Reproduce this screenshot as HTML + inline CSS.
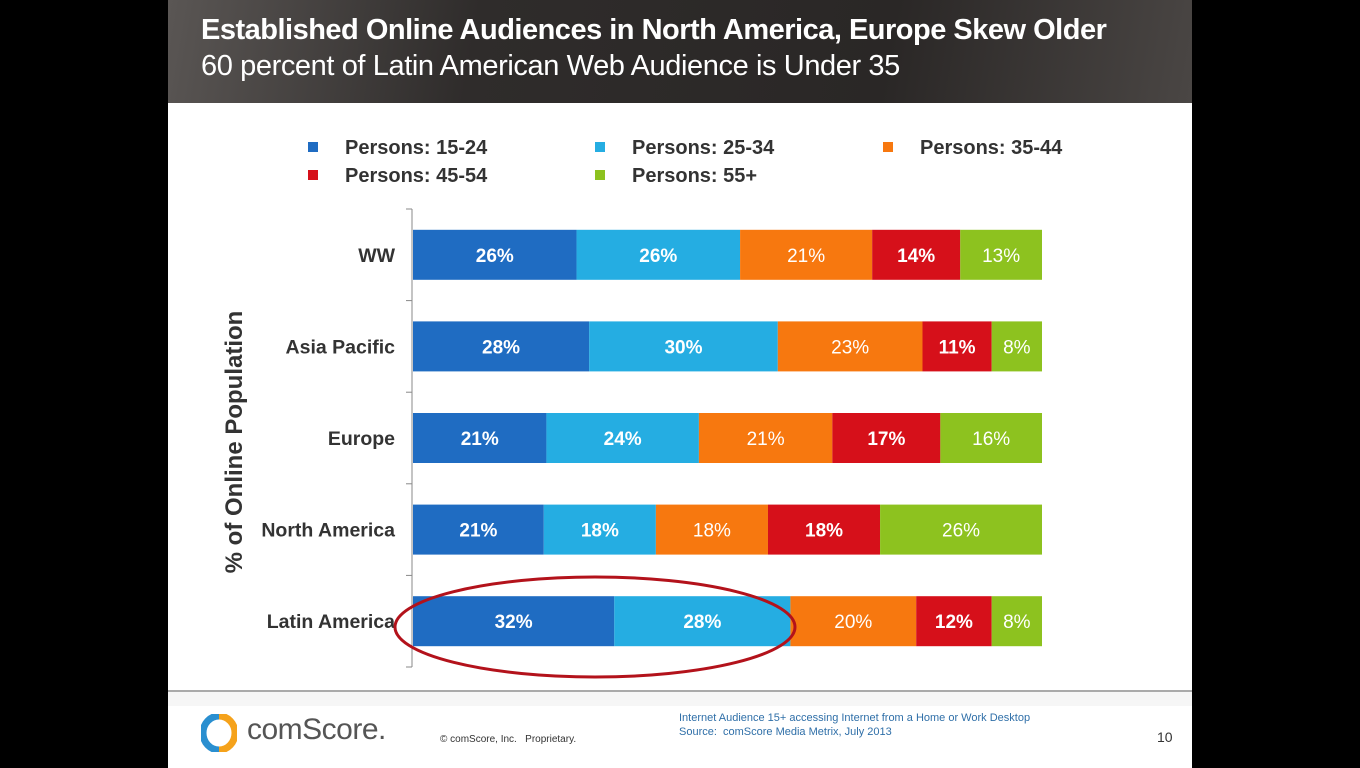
<!DOCTYPE html>
<html><head><meta charset="utf-8"><style>
body{margin:0;width:1360px;height:768px;background:#000;overflow:hidden;font-family:"Liberation Sans",Arial,sans-serif}
#slide{position:absolute;left:168px;top:0;width:1024px;height:768px;background:#fff}
#hdr{position:absolute;left:0;top:0;width:1024px;height:103px;background:linear-gradient(100deg,#5a5654 0%,#2f2c2b 30%,#2a2726 70%,#4a4644 100%)}
.t1{position:absolute;left:33px;top:14px;color:#fff;font-weight:bold;font-size:29px;letter-spacing:-0.5px}
.t2{position:absolute;left:33px;top:50px;color:#fff;font-size:29px;letter-spacing:-0.4px}
.ft{position:absolute;font-size:11px;color:#333}
</style></head><body>
<div id="slide">
<div id="hdr">
<div class="t1">Established Online Audiences in North America, Europe Skew Older</div>
<div class="t2">60 percent of Latin American Web Audience is Under 35</div>
</div>
<div style="position:absolute;left:0;top:690px;width:1024px;height:2px;background:#aaa"></div>
<div style="position:absolute;left:0;top:692px;width:1024px;height:14px;background:#f6f6f6"></div>
<svg style="position:absolute;left:33px;top:714px" width="36" height="38">
<path d="M18 2 A16 17 0 0 0 18 36" fill="none" stroke="#2a8fd0" stroke-width="7"/>
<path d="M18 2 A16 17 0 0 1 18 36" fill="none" stroke="#f5a21b" stroke-width="7"/>
</svg>
<div style="position:absolute;left:79px;top:713px;font-size:30px;color:#555;letter-spacing:-0.5px">comScore.</div>
<div class="ft" style="left:272px;top:734px;font-size:10px">© comScore, Inc. &nbsp;&nbsp;Proprietary.</div>
<div class="ft" style="left:511px;top:711px;color:#2f6fa8;line-height:14px">Internet Audience 15+ accessing Internet from a Home or Work Desktop<br>Source: &nbsp;comScore Media Metrix, July 2013</div>
<div class="ft" style="left:989px;top:729px;font-size:14px">10</div>
</div>
<svg id="chart" width="1360" height="768" style="position:absolute;left:0;top:0"></svg>
<script>
const categories=["WW","Asia Pacific","Europe","North America","Latin America"];
const seriesNames=["Persons: 15-24","Persons: 25-34","Persons: 35-44","Persons: 45-54","Persons: 55+"];
const s1524=[26,28,21,21,32];
const s2534=[26,30,24,18,28];
const s3544=[21,23,21,18,20];
const s4554=[14,11,17,18,12];
const s55=[13,8,16,26,8];
const series=[s1524,s2534,s3544,s4554,s55];
const colors=["#1f6cc2","#25ade2","#f7780f","#d6101a","#8dc21f"];
const NS="http://www.w3.org/2000/svg";
const svg=document.getElementById('chart');
function mk(t,a,p){const e=document.createElementNS(NS,t);for(const k in a)e.setAttribute(k,a[k]);(p||svg).appendChild(e);return e;}
const x0=413,x1=1042,yTop=209,yBot=667;
const band=(yBot-yTop)/categories.length;
const yC=i=>yTop+band*(i+0.5);
const xS=(v,tot)=>v/tot*(x1-x0);
let ax=mk('line',{x1:412,y1:yTop,x2:412,y2:yBot,stroke:'#888','stroke-width':1});


for(let i=0;i<=categories.length;i++){let t=mk('line',{x1:406,y1:yTop+band*i,x2:412,y2:yTop+band*i,stroke:'#888'});

}
categories.forEach((c,i)=>{
 let l=mk('text',{x:395,y:yC(i)+7,'text-anchor':'end','font-size':19.5,'font-weight':'bold',fill:'#333'});l.textContent=c;
 
 
 const tot=series.reduce((s,a)=>s+a[i],0);
 let x=x0;
 series.forEach((a,j)=>{
  const w=xS(a[i],tot);
  let r=mk('rect',{x:x,y:yC(i)-25,width:w,height:50,fill:colors[j]});
  
  
  let tx=mk('text',{x:x+w/2,y:yC(i)+7,'text-anchor':'middle','font-size':19,'font-weight':(j<2||j==3)?'bold':'normal',fill:'#fff'});
  tx.textContent=a[i]+'%';
  
  
  x+=w;
 });
});
const lx=[313,600,888,313,600],ly=[147,147,147,175,175];
seriesNames.forEach((n,j)=>{
 let r=mk('rect',{x:lx[j]-5,y:ly[j]-5,width:10,height:10,fill:colors[j]});
 
 
 let t=mk('text',{x:lx[j]+32,y:ly[j]+7,'font-size':20,'font-weight':'bold',fill:'#333'});t.textContent=n;
 
 
});
let yt=mk('text',{x:0,y:0,transform:'translate(242,442) rotate(-90)','text-anchor':'middle','font-size':24,'font-weight':'bold',fill:'#333'});
yt.textContent='% of Online Population';


let el=mk('ellipse',{cx:595,cy:627,rx:200,ry:50,fill:'none',stroke:'#b3121b','stroke-width':3});


</script>
</body></html>
